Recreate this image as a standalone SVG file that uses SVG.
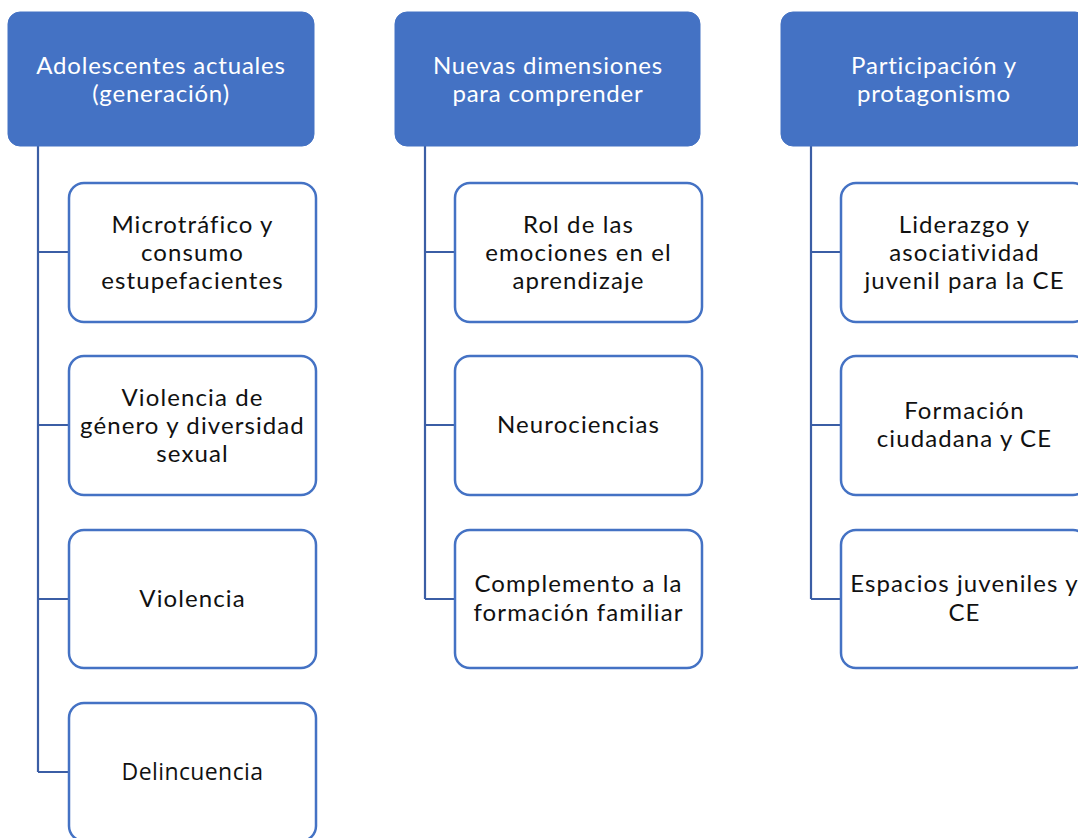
<svg xmlns="http://www.w3.org/2000/svg" width="1078" height="838" viewBox="0 0 1078 838">
<style>
.hdr{fill:#4472C4;stroke:#4472C4;stroke-width:1}
.box{fill:#FFFFFF;stroke:#4472C4;stroke-width:2.5}
.conn{fill:none;stroke:#3B5EA5;stroke-width:2.2}
.ht{font-family:Lato,"Noto Sans",sans-serif;font-size:24px;letter-spacing:0.8px;fill:#FFFFFF;text-anchor:middle}
.ct{font-family:Lato,"Noto Sans",sans-serif;font-size:24px;letter-spacing:1.1px;fill:#111111;text-anchor:middle}
.st{font-family:"Open Sans","Noto Sans",sans-serif;font-size:23px;letter-spacing:0.4px;fill:#111111;text-anchor:middle}
</style>
<rect width="1078" height="838" fill="#FFFFFF"/>
<g id="connectors">
<path class="conn" d="M38 146 V772 M38 252 H69 M38 425 H69 M38 599 H69 M38 772 H69"/>
<path class="conn" d="M425 146 V599 M425 252 H455 M425 425 H455 M425 599 H455"/>
<path class="conn" d="M811 146 V599 M811 252 H841 M811 425 H841 M811 599 H841"/>
</g>
<g id="h1"><rect class="hdr" x="8" y="12" width="306" height="134" rx="12"/>
<text class="ht" x="161" y="74">Adolescentes actuales</text><text class="ht" x="161" y="102">(generación)</text></g>
<g id="h2"><rect class="hdr" x="395" y="12" width="305" height="134" rx="12"/>
<text class="ht" x="548" y="74">Nuevas dimensiones</text><text class="ht" x="548" y="102">para comprender</text></g>
<g id="h3"><rect class="hdr" x="781" y="12" width="306" height="134" rx="12"/>
<text class="ht" x="934" y="74">Participación y</text><text class="ht" x="934" y="102">protagonismo</text></g>

<g id="c1a"><rect class="box" x="69" y="183" width="247" height="139" rx="15"/>
<text class="ct" x="192.5" y="233">Microtráfico y</text><text class="ct" x="192.5" y="261">consumo</text><text class="ct" x="192.5" y="289">estupefacientes</text></g>
<g id="c1b"><rect class="box" x="69" y="356" width="247" height="139" rx="15"/>
<text class="ct" x="192.5" y="406">Violencia de</text><text class="ct" x="192.5" y="434">género y diversidad</text><text class="ct" x="192.5" y="462">sexual</text></g>
<g id="c1c"><rect class="box" x="69" y="530" width="247" height="138" rx="15"/>
<text class="ct" x="192.5" y="607">Violencia</text></g>
<g id="c1d"><rect class="box" x="69" y="703" width="247" height="138" rx="15"/>
<text class="st" x="192.5" y="780">Delincuencia</text></g>

<g id="c2a"><rect class="box" x="455" y="183" width="247" height="139" rx="15"/>
<text class="ct" x="578.5" y="233">Rol de las</text><text class="ct" x="578.5" y="261">emociones en el</text><text class="ct" x="578.5" y="289">aprendizaje</text></g>
<g id="c2b"><rect class="box" x="455" y="356" width="247" height="139" rx="15"/>
<text class="ct" x="578.5" y="433">Neurociencias</text></g>
<g id="c2c"><rect class="box" x="455" y="530" width="247" height="138" rx="15"/>
<text class="ct" x="578.5" y="592">Complemento a la</text><text class="ct" x="578.5" y="621">formación familiar</text></g>

<g id="c3a"><rect class="box" x="841" y="183" width="247" height="139" rx="15"/>
<text class="ct" x="964.5" y="233">Liderazgo y</text><text class="ct" x="964.5" y="261">asociatividad</text><text class="ct" x="964.5" y="289">juvenil para la CE</text></g>
<g id="c3b"><rect class="box" x="841" y="356" width="247" height="139" rx="15"/>
<text class="ct" x="964.5" y="419">Formación</text><text class="ct" x="964.5" y="447">ciudadana y CE</text></g>
<g id="c3c"><rect class="box" x="841" y="530" width="247" height="138" rx="15"/>
<text class="ct" x="964.5" y="592">Espacios juveniles y</text><text class="ct" x="964.5" y="621">CE</text></g>
</svg>
